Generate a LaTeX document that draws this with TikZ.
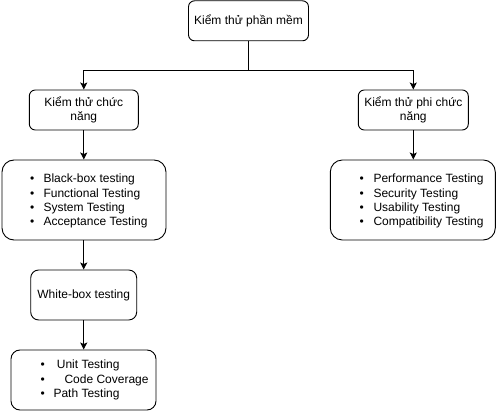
\documentclass[tikz,border=0pt]{standalone}
\usepackage{fontspec}
\setmainfont{Liberation Sans}
\usetikzlibrary{arrows.meta}
\begin{document}
\begin{tikzpicture}[x=1pt,y=-1pt,
  box/.style={draw,line width=0.9pt,rounded corners=#1,inner sep=0pt,align=center},
  box/.default=6pt,
  arr/.style={line width=0.9pt,-{Stealth[length=7pt,width=7pt,inset=1.5pt]}},
  ln/.style={line width=0.9pt},
  txt/.style={inner sep=0pt,anchor=base west},
  every node/.style={font=\fontsize{12}{14.4}\selectfont}]
\useasboundingbox (0,0) rectangle (496,414);
\node[box,minimum width=120pt,minimum height=40pt] (root) at (248.5,20.8) {Kiểm thử phần mềm};
\node[box,minimum width=109pt,minimum height=40pt] (fl) at (83.8,110) {Kiểm thử chức\\năng};
\node[box,minimum width=110pt,minimum height=40pt] (nf) at (413.3,110) {Kiểm thử phi chức\\năng};
\node[box=12pt,minimum width=164pt,minimum height=80pt] (bl) at (84,200) {};
\node[box=12pt,minimum width=165pt,minimum height=80pt] (nl) at (412.8,200) {};
\node[box=8pt,minimum width=106pt,minimum height=50pt] (wb) at (83.7,295) {White-box testing};
\node[box=9pt,minimum width=145pt,minimum height=60pt] (wl) at (83.5,380) {};
% left list
\foreach \t [count=\i] in {Black-box testing,Functional Testing,System Testing,Acceptance Testing}{
  \node[txt] (lb\i) at (30,{182.7+14.4*(\i-1)}) {\textbullet};
  \node[txt] (lt\i) at (43.3,{182.7+14.4*(\i-1)}) {\t};
}
% right list
\foreach \t [count=\i] in {Performance Testing,Security Testing,Usability Testing,Compatibility Testing}{
  \node[txt] (rb\i) at (359.3,{182.7+14.4*(\i-1)}) {\textbullet};
  \node[txt] (rt\i) at (373.3,{182.7+14.4*(\i-1)}) {\t};
}
% bottom list
\node[txt] (bb1) at (40.3,369) {\textbullet};
\node[txt] (bt1) at (56.7,369) {Unit Testing};
\node[txt] (bb2) at (40.3,383.6) {\textbullet};
\node[txt] (bt2) at (64.3,383.6) {Code Coverage};
\node[txt] (bb3) at (40.3,398) {\textbullet};
\node[txt] (bt3) at (53.3,398) {Path Testing};
% connectors
\coordinate (jn) at (248.5,70);
\draw[ln] (root.south) -- (jn);
\draw[arr] (jn) -| (fl.north);
\draw[arr] (jn) -| (nf.north);
\draw[arr] (fl.south) -- (fl.south |- bl.north);
\draw[arr] (nf.south) -- (nf.south |- nl.north);
\draw[arr] (bl.south -| wb.north) -- (wb.north);
\draw[arr] (wb.south) -- (wb.south |- wl.north);
\end{tikzpicture}
\end{document}
